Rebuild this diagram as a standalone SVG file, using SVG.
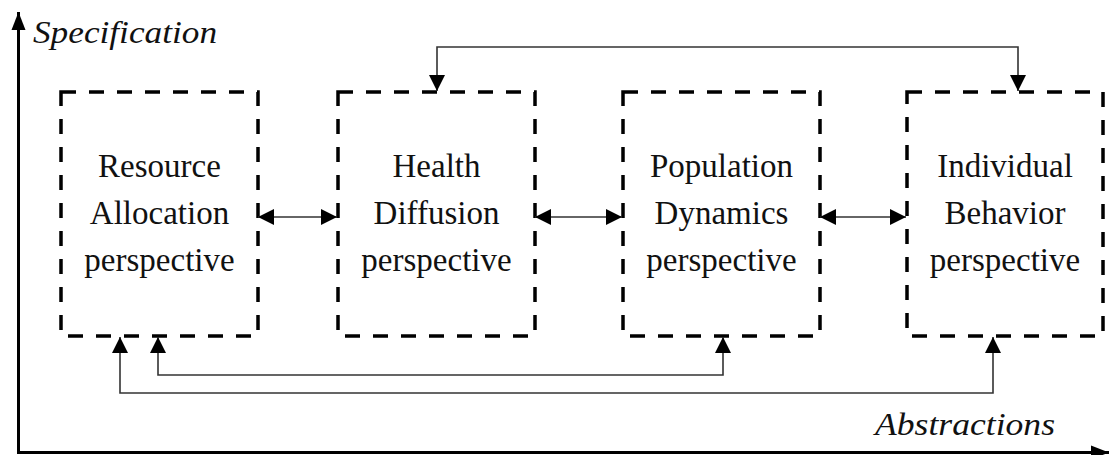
<svg xmlns="http://www.w3.org/2000/svg" width="1110" height="455" viewBox="0 0 1110 455">
<style>
.box{fill:none;stroke:#000;stroke-width:3.5;stroke-dasharray:15 13}
.lbl{font-family:"Liberation Serif","Times New Roman",serif;font-size:33px;fill:#111;text-anchor:middle}
.ax{font-family:"Liberation Serif","Times New Roman",serif;font-size:32px;font-style:italic;fill:#111}
.con{fill:none;stroke:#333;stroke-width:1.6}
.axis{fill:none;stroke:#000;stroke-width:3}
</style>
<defs>
<marker id="ah" markerUnits="userSpaceOnUse" markerWidth="16" markerHeight="16" viewBox="0 0 16 16" refX="16" refY="8" orient="auto-start-reverse">
<path d="M0,0 L16,8 L0,16 z" fill="#000"/>
</marker>
<marker id="axh" markerUnits="userSpaceOnUse" markerWidth="18" markerHeight="16" viewBox="0 0 18 16" refX="18" refY="8" orient="auto">
<path d="M0,1 L18,8 L0,15 z" fill="#000"/>
</marker>
</defs>
<g id="axes">
<path class="axis" d="M18.5,452 V12" marker-end="url(#axh)"/>
<path class="axis" d="M17,452.5 H1109" marker-end="url(#axh)"/>
<text class="ax" x="33" y="43" textLength="184" lengthAdjust="spacingAndGlyphs">Specification</text>
<text class="ax" x="875" y="435" textLength="180" lengthAdjust="spacingAndGlyphs">Abstractions</text>
</g>
<g id="node-resource">
<rect class="box" x="61" y="92" width="197" height="244"/>
<text class="lbl" x="159.5" y="177">Resource</text>
<text class="lbl" x="159.5" y="224">Allocation</text>
<text class="lbl" x="159.5" y="271">perspective</text>
</g>
<g id="node-health">
<rect class="box" x="338" y="92" width="197" height="244"/>
<text class="lbl" x="436.5" y="177">Health</text>
<text class="lbl" x="436.5" y="224">Diffusion</text>
<text class="lbl" x="436.5" y="271">perspective</text>
</g>
<g id="node-population">
<rect class="box" x="623" y="92" width="197" height="244"/>
<text class="lbl" x="721.5" y="177">Population</text>
<text class="lbl" x="721.5" y="224">Dynamics</text>
<text class="lbl" x="721.5" y="271">perspective</text>
</g>
<g id="node-individual">
<rect class="box" x="907" y="92" width="196" height="244"/>
<text class="lbl" x="1005" y="177">Individual</text>
<text class="lbl" x="1005" y="224">Behavior</text>
<text class="lbl" x="1005" y="271">perspective</text>
</g>
<g id="connectors">
<path class="con" d="M258,217 H337" marker-start="url(#ah)" marker-end="url(#ah)"/>
<path class="con" d="M535,217 H622" marker-start="url(#ah)" marker-end="url(#ah)"/>
<path class="con" d="M820,217 H906" marker-start="url(#ah)" marker-end="url(#ah)"/>
<path class="con" d="M437,91 V47 H1018 V91" marker-start="url(#ah)" marker-end="url(#ah)"/>
<path class="con" d="M158,337 V375 H723 V337" marker-start="url(#ah)" marker-end="url(#ah)"/>
<path class="con" d="M120,337 V393 H993 V337" marker-start="url(#ah)" marker-end="url(#ah)"/>
</g>
</svg>
